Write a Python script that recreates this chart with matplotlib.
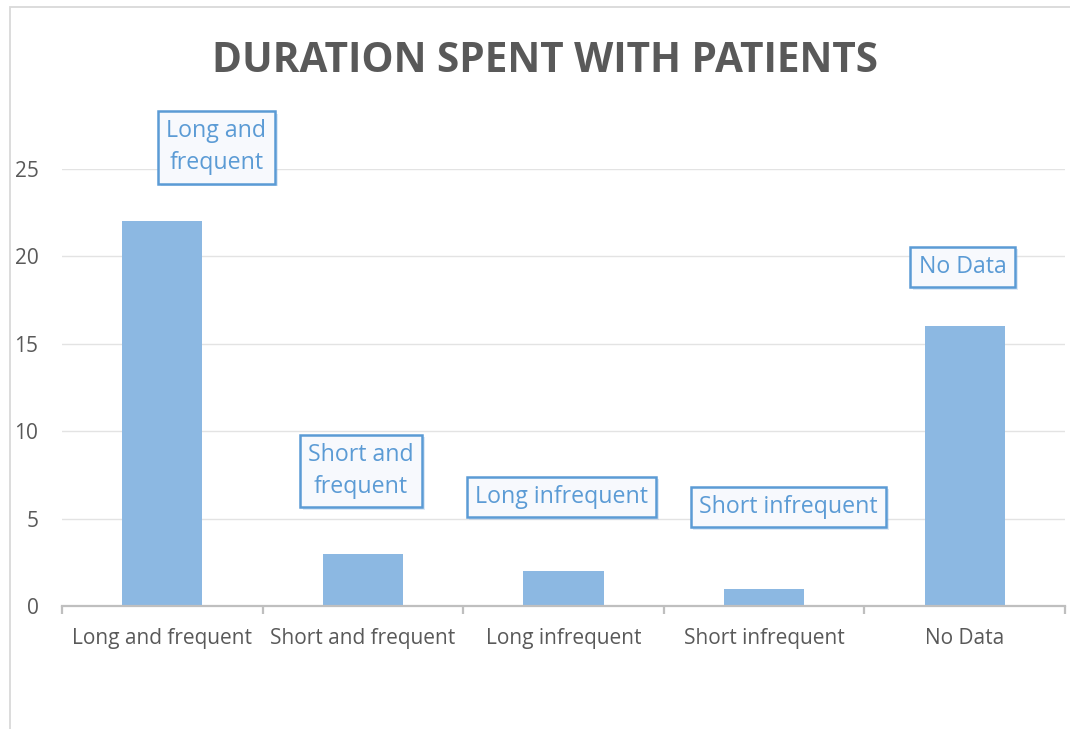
import matplotlib
matplotlib.use("Agg")
import matplotlib.pyplot as plt
from matplotlib.patches import Rectangle
import matplotlib.patheffects as pe

categories = ["Long and frequent", "Short and frequent", "Long infrequent", "Short infrequent", "No Data"]
values = [22, 3, 2, 1, 16]
label_texts = ["Long and\nfrequent", "Short and\nfrequent", "Long infrequent", "Short infrequent", "No Data"]
label_x = [0.27, 0.99, 1.99, 3.12, 3.99]
label_y = [26.25, 7.72, 6.24, 5.66, 19.39]
yticks = [0, 5, 10, 15, 20, 25]

plt.rcParams['font.family'] = ['Open Sans', 'DejaVu Sans']

fig = plt.figure(figsize=(10.70, 7.29), dpi=100)
fig.patch.set_facecolor("white")
# chart border
fig.patches.append(Rectangle((10/1070, -0.1), 1.2, (729-7)/729 + 0.1, transform=fig.transFigure,
                             fill=False, edgecolor="#d9d9d9", linewidth=1.3, zorder=0))

ax = fig.add_axes([62/1070, (729-606)/729, (1065-62)/1070, (606-169)/729])
x = list(range(len(categories)))
ax.bar(x, values, width=0.40, color="#8cb8e2", zorder=2)
ax.set_xlim(-0.5, len(categories) - 0.5)
ax.set_ylim(0, 25)
ax.set_yticks(yticks)
ax.set_yticklabels([str(t) for t in yticks], color="#595959", fontsize=15)
ax.yaxis.grid(True, color="#e3e3e3", linewidth=1.0, zorder=0)
ax.set_axisbelow(True)
for s in ["left", "right", "top"]:
    ax.spines[s].set_visible(False)
ax.spines["bottom"].set_color("#bfbfbf")
ax.spines["bottom"].set_linewidth(1.6)
ax.tick_params(axis="y", length=0, pad=17)
ax.set_xticks(x)
ax.set_xticklabels(categories, color="#595959", fontsize=15)
ax.tick_params(axis="x", which="major", length=0, pad=16)
ax.set_xticks([i - 0.5 for i in range(len(categories) + 1)], minor=True)
ax.tick_params(axis="x", which="minor", length=6, width=1.6, color="#bfbfbf")

for lx, ly, t in zip(label_x, label_y, label_texts):
    ax.annotate(t, (lx, ly), ha="center", va="center", fontsize=16.7, color="#5b9bd5",
                linespacing=1.45, annotation_clip=False, zorder=5,
                bbox=dict(boxstyle="square,pad=0.36", facecolor="#f7f9fd", edgecolor="#5b9bd5",
                          linewidth=1.8,
                          path_effects=[pe.SimplePatchShadow(offset=(2, -2), shadow_rgbFace="#9cc0e6", alpha=0.35),
                                        pe.Normal()]))

fig.text(545/1070, 1 - 62/729, "DURATION SPENT WITH PATIENTS", ha="center", va="center",
         fontsize=29.2, fontweight="bold", color="#595959")

fig.savefig("out.png", dpi=100, facecolor="white")
